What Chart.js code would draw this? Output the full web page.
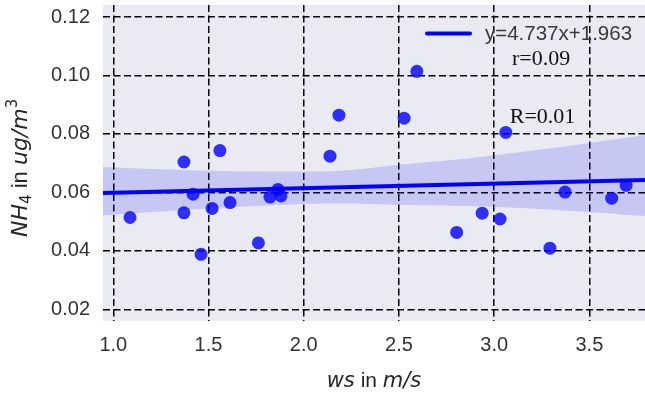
<!DOCTYPE html>
<html>
<head>
<meta charset="utf-8">
<script src="https://cdn.jsdelivr.net/npm/chart.js@4/dist/chart.umd.min.js"></script>
<style>
  html, body { margin: 0; padding: 0; background: #ffffff; }
  #wrap { width: 645px; height: 395px; position: relative; }
</style>
</head>
<body>
<div id="wrap"><canvas id="c"></canvas></div>
<script>
// ---- data ----
const wsValues  = [1.088, 1.371, 1.371, 1.419, 1.461, 1.519, 1.560, 1.613, 1.762, 1.823, 1.865, 1.881,
                   2.138, 2.185, 2.527, 2.594, 2.803, 2.937, 3.031, 3.061, 3.293, 3.372, 3.617, 3.693];
const nh4Values = [0.0514, 0.0704, 0.0530, 0.0594, 0.0388, 0.0545, 0.0743, 0.0565, 0.0427, 0.0584, 0.0610, 0.0588,
                   0.0724, 0.0864, 0.0854, 0.1014, 0.0463, 0.0529, 0.0509, 0.0805, 0.0409, 0.0601, 0.0580, 0.0624];

const fitX = [0.946, 3.792];
const fitY = [0.0598, 0.0642];

const bandX     = [0.946, 1.455, 1.981, 2.243, 2.506, 2.873, 3.346, 3.792];
const bandUpper = [0.0687, 0.0675, 0.0671, 0.0676, 0.0695, 0.0717, 0.0755, 0.0796];
const bandLower = [0.0521, 0.0543, 0.0560, 0.0562, 0.0557, 0.0553, 0.0539, 0.0519];

const xTickValues = [1.0, 1.5, 2.0, 2.5, 3.0, 3.5];
const yTickValues = [0.02, 0.04, 0.06, 0.08, 0.10, 0.12];

const legendLabel = "y=4.737x+1.963";
const annotationTexts = ["r=0.09", "R=0.01"];

// ---- helpers ----
const pts = (xs, ys) => xs.map((x, i) => ({ x: x, y: ys[i] }));

const bgPlugin = {
  id: 'bg',
  beforeDraw(chart) {
    const { ctx, chartArea: a } = chart;
    ctx.save();
    ctx.fillStyle = '#EAEAF2';
    ctx.fillRect(a.left, a.top, a.right - a.left, a.bottom - a.top);
    ctx.restore();
  }
};

function drawRuns(ctx, runs, x, y) {
  let cx = x;
  for (const r of runs) {
    ctx.font = r.font;
    ctx.fillText(r.text, cx, y + (r.dy || 0));
    cx += ctx.measureText(r.text).width;
  }
  return cx - x;
}
function runsWidth(ctx, runs) {
  let w = 0;
  for (const r of runs) { ctx.font = r.font; w += ctx.measureText(r.text).width; }
  return w;
}

const textPlugin = {
  id: 'texts',
  afterDraw(chart) {
    const { ctx, chartArea: a, scales } = chart;
    ctx.save();

    // legend (top right inside the axes)
    ctx.strokeStyle = '#0000FF';
    ctx.lineWidth = 4;
    ctx.lineCap = 'round';
    ctx.beginPath();
    ctx.moveTo(427, 33.5);
    ctx.lineTo(470, 33.5);
    ctx.stroke();
    ctx.fillStyle = '#3a3a3a';
    ctx.font = '20.5px "Liberation Sans", Arial, sans-serif';
    ctx.textBaseline = 'middle';
    ctx.textAlign = 'left';
    ctx.fillText(legendLabel, 485, 34);

    // annotations (serif)
    ctx.fillStyle = '#111111';
    ctx.font = '22px "Liberation Serif", "Times New Roman", serif';
    ctx.textAlign = 'center';
    ctx.fillText(annotationTexts[0], scales.x.getPixelForValue(3.246), scales.y.getPixelForValue(0.1055));
    ctx.fillText(annotationTexts[1], scales.x.getPixelForValue(3.254), scales.y.getPixelForValue(0.0858));

    // x axis title: ws in m/s
    ctx.fillStyle = '#262626';
    ctx.textAlign = 'left';
    ctx.textBaseline = 'alphabetic';
    const it = 'italic 21px "DejaVu Sans", sans-serif';
    const rg = '21px "Liberation Sans", Arial, sans-serif';
    const xRuns = [
      { text: 'ws', font: it },
      { text: ' in ', font: rg },
      { text: 'm/s', font: it }
    ];
    const xw = runsWidth(ctx, xRuns);
    drawRuns(ctx, xRuns, (a.left + a.right) / 2 - xw / 2, 387);

    // y axis title: NH4 in ug/m3 (rotated)
    const ity = 'italic 22px "DejaVu Sans", sans-serif';
    const rgy = '22px "Liberation Sans", Arial, sans-serif';
    const sub = '15px "DejaVu Sans", sans-serif';
    const yRuns = [
      { text: 'NH', font: ity },
      { text: '4', font: sub, dy: 4 },
      { text: ' in ', font: rgy },
      { text: 'ug/m', font: ity },
      { text: '3', font: sub, dy: -10 }
    ];
    const yw = runsWidth(ctx, yRuns);
    ctx.translate(27, (a.top + a.bottom) / 2 + 5);
    ctx.rotate(-Math.PI / 2);
    drawRuns(ctx, yRuns, -yw / 2, 0);

    ctx.restore();
  }
};

const gridCommon = {
  color: '#000000',
  lineWidth: 1.5,
  drawTicks: false
};
const borderCommon = { display: false, dash: [7, 3.5] };

new Chart(document.getElementById('c'), {
  type: 'scatter',
  data: {
    datasets: [
      {
        label: 'fit',
        type: 'line',
        data: pts(fitX, fitY),
        borderColor: '#0000FF',
        borderWidth: 4,
        pointRadius: 0,
        fill: false,
        order: 0
      },
      {
        label: 'ci-upper',
        type: 'line',
        data: pts(bandX, bandUpper),
        borderWidth: 0,
        borderColor: 'rgba(0,0,0,0)',
        pointRadius: 0,
        tension: 0.3,
        fill: '+1',
        backgroundColor: 'rgba(0,0,255,0.15)',
        order: 1
      },
      {
        label: 'ci-lower',
        type: 'line',
        data: pts(bandX, bandLower),
        borderWidth: 0,
        borderColor: 'rgba(0,0,0,0)',
        pointRadius: 0,
        tension: 0.3,
        fill: false,
        order: 1
      },
      {
        label: 'NH4',
        data: pts(wsValues, nh4Values),
        backgroundColor: 'rgba(0,0,255,0.8)',
        borderWidth: 0,
        pointRadius: 6.5,
        pointHoverRadius: 6.5,
        order: 2
      }
    ]
  },
  options: {
    responsive: true,
    maintainAspectRatio: false,
    animation: false,
    layout: { autoPadding: false, padding: { top: 5, right: 0, left: 0, bottom: 0 } },
    plugins: {
      legend: { display: false },
      tooltip: { enabled: false }
    },
    scales: {
      x: {
        type: 'linear',
        min: 0.946,
        max: 3.792,
        afterFit(s) { s.height = 74.3; s.paddingLeft = 0; s.paddingRight = 0; },
        afterBuildTicks(s) { s.ticks = xTickValues.map(v => ({ value: v })); },
        grid: gridCommon,
        border: borderCommon,
        ticks: {
          color: '#333333',
          font: { family: '"Liberation Sans", Arial, sans-serif', size: 20 },
          padding: 13,
          maxRotation: 0,
          callback: v => Number(v).toFixed(1)
        }
      },
      y: {
        type: 'linear',
        min: 0.0161,
        max: 0.1241,
        afterFit(s) { s.width = 103; s.paddingTop = 0; s.paddingBottom = 0; },
        afterBuildTicks(s) { s.ticks = yTickValues.map(v => ({ value: v })); },
        grid: gridCommon,
        border: borderCommon,
        ticks: {
          color: '#333333',
          font: { family: '"Liberation Sans", Arial, sans-serif', size: 20 },
          padding: 13,
          callback: v => Number(v).toFixed(2)
        }
      }
    }
  },
  plugins: [bgPlugin, textPlugin]
});
</script>
</body>
</html>
